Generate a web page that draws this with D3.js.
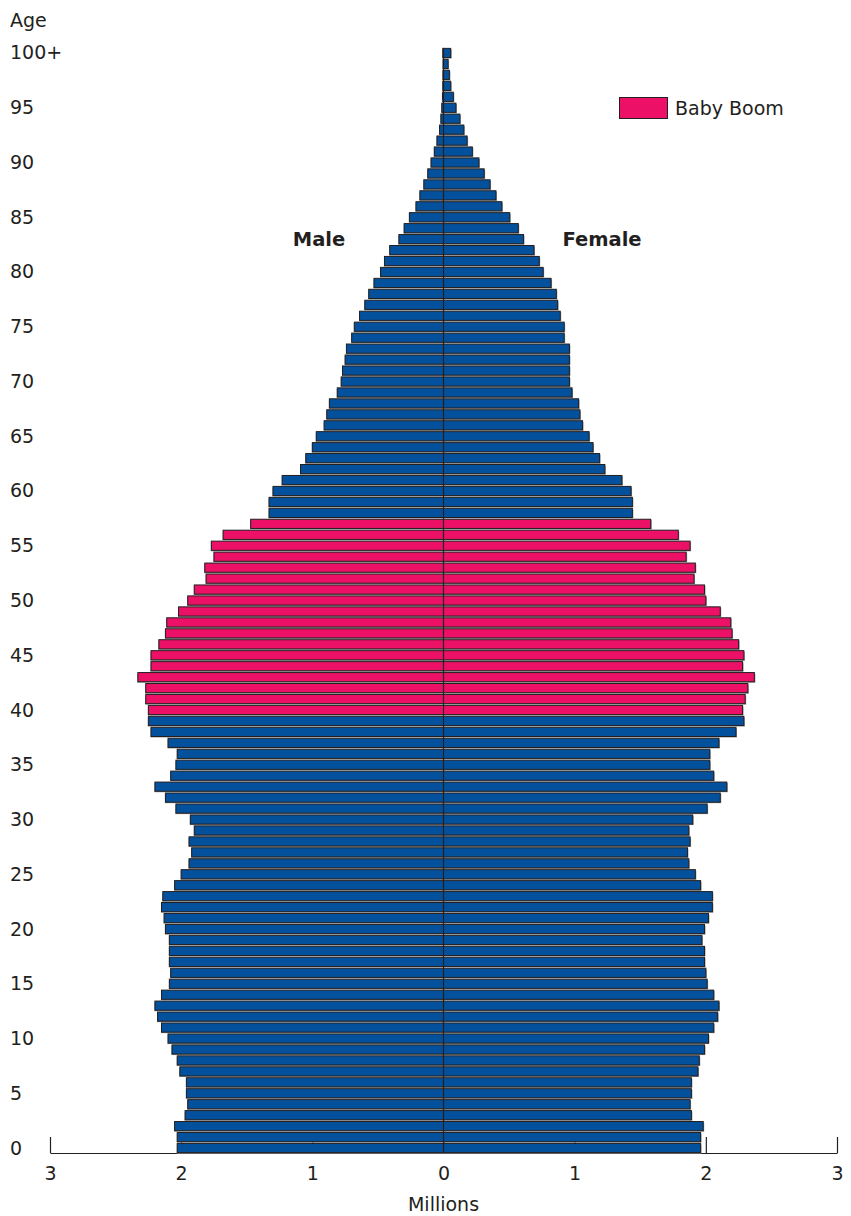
<!DOCTYPE html>
<html>
<head>
<meta charset="utf-8">
<script src="https://cdn.jsdelivr.net/npm/d3@7"></script>
<style>
  body { margin: 0; background: #fff; }
  svg { display: block; font-family: "DejaVu Sans", sans-serif; }
</style>
</head>
<body>
<div id="chart"></div>
<script>
// single years of age 0..100 (last one is 100+)
const ages = d3.range(0, 101);

// millions
const male = [
  2.03, 2.03, 2.05, 1.97, 1.95, 1.96, 1.96, 2.01, 2.03, 2.07,
  2.10, 2.15, 2.18, 2.20, 2.15, 2.09, 2.08, 2.09, 2.09, 2.09,
  2.12, 2.13, 2.15, 2.14, 2.05, 2.00, 1.94, 1.92, 1.94, 1.90,
  1.93, 2.04, 2.12, 2.20, 2.08, 2.04, 2.03, 2.10, 2.23, 2.25,
  2.25, 2.27, 2.27, 2.33, 2.23, 2.23, 2.17, 2.12, 2.11, 2.02,
  1.95, 1.90, 1.81, 1.82, 1.75, 1.77, 1.68, 1.47, 1.33, 1.33,
  1.30, 1.23, 1.09, 1.05, 1.00, 0.97, 0.91, 0.89, 0.87, 0.81,
  0.78, 0.77, 0.75, 0.74, 0.70, 0.68, 0.64, 0.60, 0.57, 0.53,
  0.48, 0.45, 0.41, 0.34, 0.30, 0.26, 0.21, 0.18, 0.15, 0.12,
  0.095, 0.07, 0.05, 0.03, 0.02, 0.013, 0.008, 0.005, 0.004, 0.003,
  0.005
];
const female = [
  1.96, 1.96, 1.98, 1.89, 1.88, 1.89, 1.89, 1.94, 1.95, 1.99,
  2.02, 2.06, 2.09, 2.10, 2.06, 2.01, 2.00, 1.99, 1.99, 1.97,
  1.99, 2.02, 2.05, 2.05, 1.96, 1.92, 1.87, 1.86, 1.88, 1.87,
  1.90, 2.01, 2.11, 2.16, 2.06, 2.03, 2.03, 2.10, 2.23, 2.29,
  2.28, 2.30, 2.32, 2.37, 2.28, 2.29, 2.25, 2.20, 2.19, 2.11,
  2.00, 1.99, 1.91, 1.92, 1.85, 1.88, 1.79, 1.58, 1.44, 1.44,
  1.43, 1.36, 1.23, 1.19, 1.14, 1.11, 1.06, 1.04, 1.03, 0.98,
  0.96, 0.96, 0.96, 0.96, 0.92, 0.92, 0.89, 0.87, 0.86, 0.82,
  0.76, 0.73, 0.69, 0.61, 0.57, 0.505, 0.445, 0.40, 0.355, 0.31,
  0.27, 0.22, 0.18, 0.155, 0.125, 0.095, 0.075, 0.055, 0.045, 0.035,
  0.055
];
const babyBoom = d3.range(40, 58);
const ageTicks = [0, 5, 10, 15, 20, 25, 30, 35, 40, 45, 50, 55, 60, 65, 70, 75, 80, 85, 90, 95, 100];
const ageTickLabels = ["0", "5", "10", "15", "20", "25", "30", "35", "40", "45", "50", "55", "60", "65", "70", "75", "80", "85", "90", "95", "100+"];
const xTicks = [-3, -2, -1, 0, 1, 2, 3];

const width = 851;
const height = 1216;
const center = 443.5;
const half = 393.5;
const axisY = 1153;

const blue = "#03519c";
const pink = "#ec1166";
const ink = "#231f20";
const fontSize = "19px";

const svg = d3.select("#chart").append("svg")
  .attr("width", width)
  .attr("height", height);

const y = d3.scaleBand()
  .domain(ages)
  .range([axisY + 0.5, 47.5])
  .paddingInner(0.16)
  .paddingOuter(0.08);

const xMale = d3.scaleLinear().domain([0, 3]).range([center, center - half]);
const xFemale = d3.scaleLinear().domain([0, 3]).range([center, center + half]);
const xAxisScale = d3.scaleLinear().domain([-3, 3]).range([center - half, center + half]);

// x axis (drawn first, bars sit over the inner ticks)
const xAxis = svg.append("g")
  .attr("transform", `translate(0,${axisY})`)
  .call(d3.axisBottom(xAxisScale)
    .tickValues(xTicks)
    .tickFormat(d => Math.abs(d))
    .tickSizeInner(-16)
    .tickSizeOuter(0)
    .tickPadding(14));
xAxis.select(".domain").attr("stroke", ink).attr("stroke-width", 1.2);
xAxis.selectAll(".tick line").attr("stroke", ink).attr("stroke-width", 1.2);
xAxis.selectAll(".tick text")
  .attr("fill", ink)
  .style("font-size", fontSize)
  .style("font-family", "'DejaVu Sans', sans-serif");

const isBoom = a => babyBoom.includes(a);

// bar shadows
const shadow = svg.append("g").attr("fill", "#9a9a9a");
shadow.selectAll("rect.m").data(ages).enter().append("rect")
  .attr("x", a => xMale(male[a]) - 0.5)
  .attr("y", a => y(a) + 1)
  .attr("width", a => xMale(0) - xMale(male[a]) + 1)
  .attr("height", y.bandwidth());
shadow.selectAll("rect.f").data(ages).enter().append("rect")
  .attr("x", a => xFemale(0))
  .attr("y", a => y(a) + 1)
  .attr("width", a => xFemale(female[a]) - xFemale(0) + 1)
  .attr("height", y.bandwidth());

const bars = svg.append("g")
  .attr("stroke", ink)
  .attr("stroke-width", 1);

bars.selectAll("rect.male").data(ages).enter().append("rect")
  .attr("class", "male")
  .attr("x", a => xMale(male[a]))
  .attr("y", a => y(a))
  .attr("width", a => xMale(0) - xMale(male[a]))
  .attr("height", y.bandwidth())
  .attr("fill", a => isBoom(a) ? pink : blue);

bars.selectAll("rect.female").data(ages).enter().append("rect")
  .attr("class", "female")
  .attr("x", a => xFemale(0))
  .attr("y", a => y(a))
  .attr("width", a => xFemale(female[a]) - xFemale(0))
  .attr("height", y.bandwidth())
  .attr("fill", a => isBoom(a) ? pink : blue);

// centre line
svg.append("line")
  .attr("x1", center).attr("x2", center)
  .attr("y1", y(100)).attr("y2", axisY)
  .attr("stroke", ink).attr("stroke-width", 1.2);

// age labels
svg.append("g").selectAll("text").data(ageTicks).enter().append("text")
  .attr("x", 10)
  .attr("y", d => y(d) + y.bandwidth() / 2 + 6.5)
  .attr("fill", ink)
  .style("font-size", fontSize)
  .text((d, i) => ageTickLabels[i]);

svg.append("text")
  .attr("x", 10).attr("y", 27)
  .attr("fill", ink)
  .style("font-size", fontSize)
  .text("Age");

svg.append("text")
  .attr("x", center).attr("y", 1211)
  .attr("text-anchor", "middle")
  .attr("fill", ink)
  .style("font-size", fontSize)
  .text("Millions");

svg.append("text")
  .attr("x", 319).attr("y", 246)
  .attr("text-anchor", "middle")
  .attr("fill", ink)
  .style("font-size", "19.5px")
  .style("font-weight", "bold")
  .text("Male");

svg.append("text")
  .attr("x", 602).attr("y", 246)
  .attr("text-anchor", "middle")
  .attr("fill", ink)
  .style("font-size", "19.5px")
  .style("font-weight", "bold")
  .text("Female");

// legend
svg.append("rect")
  .attr("x", 619.5).attr("y", 97.5)
  .attr("width", 48).attr("height", 21)
  .attr("fill", pink)
  .attr("stroke", ink);
svg.append("text")
  .attr("x", 675).attr("y", 115)
  .attr("fill", ink)
  .style("font-size", fontSize)
  .text("Baby Boom");
</script>
</body>
</html>
